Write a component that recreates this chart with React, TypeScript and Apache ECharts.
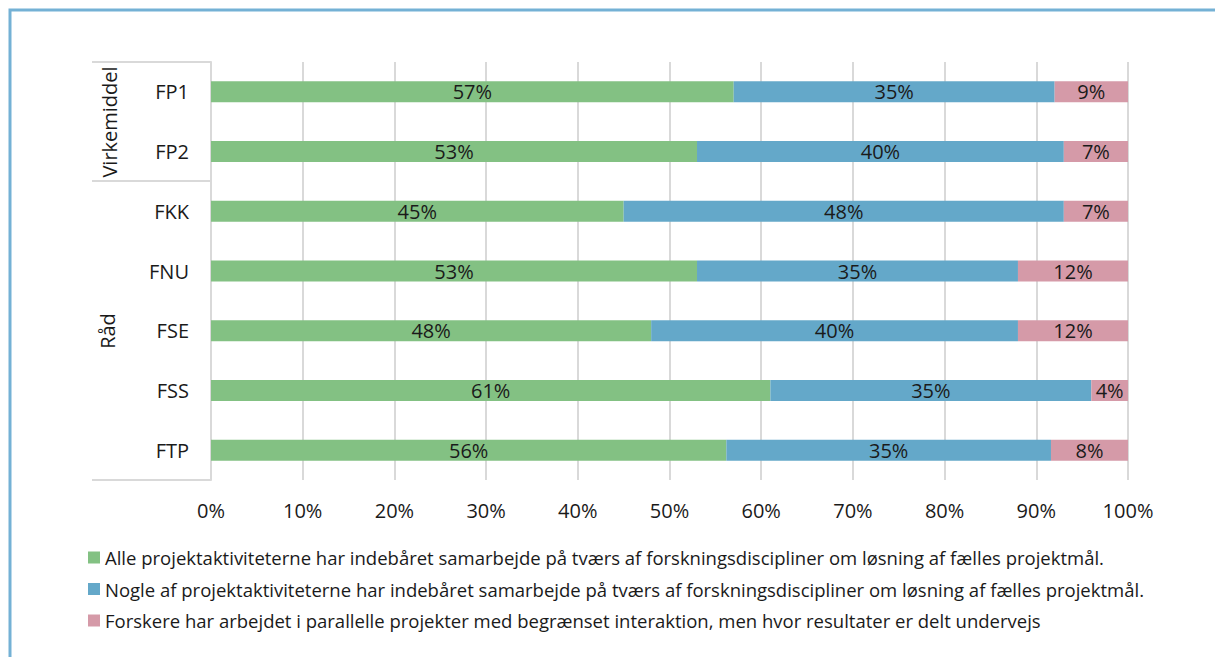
import React, { useEffect, useRef } from "react";
import * as echarts from "echarts";

const categories = ["FP1", "FP2", "FKK", "FNU", "FSE", "FSS", "FTP"];
const allePct = [57, 53, 45, 53, 48, 61, 56.2];
const noglePct = [35, 40, 48, 35, 40, 35, 35.4];
const forskerePct = [9, 7, 7, 12, 12, 4, 8.4];
const seriesNames = [
  "Alle projektaktiviteterne har indebåret samarbejde på tværs af forskningsdiscipliner om løsning af fælles projektmål.",
  "Nogle af projektaktiviteterne har indebåret samarbejde på tværs af forskningsdiscipliner om løsning af fælles projektmål.",
  "Forskere har arbejdet i parallelle projekter med begrænset interaktion, men hvor resultater er delt undervejs",
];
const groupLabels = ["Virkemiddel", "Råd"];
const colors = ["#83c183", "#64a8c9", "#d59aa8"];
const FONT = "'Open Sans', 'Noto Sans', sans-serif";
const TXT = "#1a1a1a";
const GRID = "#d9d9d9";

export default function App() {
  const ref = useRef<HTMLDivElement>(null);
  useEffect(() => {
    if (!ref.current) return;
    const chart = echarts.init(ref.current, undefined, { renderer: "svg" });
    const mk = (name: string, data: number[], color: string) => ({
      name,
      type: "bar",
      stack: "total",
      barWidth: 21,
      data,
      itemStyle: { color },
      label: {
        show: true,
        position: "inside",
        formatter: (p: any) => `${Math.round(p.value)}%`,
        color: TXT,
        fontSize: 20,
        fontFamily: FONT,
      },
    });
    chart.setOption({
      animation: false,
      textStyle: { fontFamily: FONT },
      grid: { left: 211, right: 87, top: 62, bottom: 177 },
      xAxis: {
        type: "value",
        min: 0,
        max: 100,
        interval: 10,
        axisLine: { show: false },
        axisTick: { show: false },
        splitLine: { lineStyle: { color: GRID, width: 2 } },
        axisLabel: { formatter: "{value}%", color: TXT, fontSize: 20, fontFamily: FONT, margin: 20 },
      },
      yAxis: {
        type: "category",
        inverse: true,
        data: categories,
        axisLine: { lineStyle: { color: GRID, width: 2 } },
        axisTick: { show: false },
        axisLabel: { color: TXT, fontSize: 20, fontFamily: FONT, margin: 22 },
      },
      legend: {
        orient: "vertical",
        left: 83,
        top: 543,
        itemWidth: 12,
        itemHeight: 12,
        itemGap: 12.5,
        icon: "rect",
        selectedMode: false,
        textStyle: { color: TXT, fontSize: 18.5, fontFamily: FONT },
        data: seriesNames,
      },
      graphic: [
        {
          type: "rect",
          shape: { x: 10, y: 10, width: 1400, height: 900 },
          style: { fill: "none", stroke: "#74b1d5", lineWidth: 3 },
          silent: true,
          z: -1,
        },
        { type: "line", shape: { x1: 92, y1: 62, x2: 211, y2: 62 }, style: { stroke: GRID, lineWidth: 2 } },
        { type: "line", shape: { x1: 92, y1: 181, x2: 211, y2: 181 }, style: { stroke: GRID, lineWidth: 2 } },
        { type: "line", shape: { x1: 92, y1: 480, x2: 211, y2: 480 }, style: { stroke: GRID, lineWidth: 2 } },
        {
          type: "text",
          x: 109,
          y: 122,
          rotation: Math.PI / 2,
          style: { text: groupLabels[0], fill: TXT, fontSize: 20, fontFamily: FONT, align: "center", verticalAlign: "middle" },
        },
        {
          type: "text",
          x: 107,
          y: 331,
          rotation: Math.PI / 2,
          style: { text: groupLabels[1], fill: TXT, fontSize: 20, fontFamily: FONT, align: "center", verticalAlign: "middle" },
        },
      ],
      series: [
        mk(seriesNames[0], allePct, colors[0]),
        mk(seriesNames[1], noglePct, colors[1]),
        mk(seriesNames[2], forskerePct, colors[2]),
      ],
    });
    return () => chart.dispose();
  }, []);
  return (
    <div
      ref={ref}
      style={{ position: "absolute", left: 0, top: 0, width: 1215, height: 657, background: "#fff" }}
    />
  );
}
